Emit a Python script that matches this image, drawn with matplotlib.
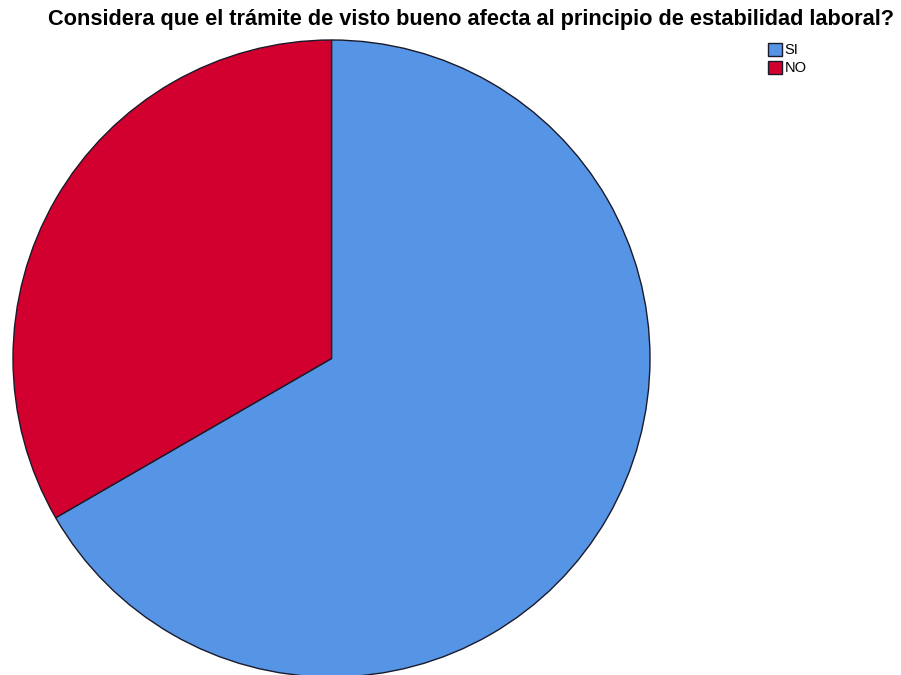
import matplotlib.pyplot as plt
from matplotlib.patches import Patch

# respuestas de la encuesta
categorias = ['SI', 'NO']
frecuencias = [20, 10]
colores = ['#5694e6', '#d2002e']

plt.rcParams['font.family'] = ['Liberation Sans', 'DejaVu Sans']

fig = plt.figure(figsize=(9.01, 6.75), dpi=100)
ax = fig.add_axes([13 / 901, -2 / 675, 637 / 901, 637 / 675])

ax.pie(frecuencias, colors=colores, startangle=90, counterclock=False,
       wedgeprops=dict(edgecolor='#1a1a2a', linewidth=1.0))
ax.set_xlim(-1.0, 1.0)
ax.set_ylim(-1.0, 1.0)
ax.set_aspect('equal')
ax.axis('off')

fig.text(471 / 901, 1 - 19 / 675,
         'Considera que el trámite de visto bueno afecta al principio de estabilidad laboral?',
         ha='center', va='center', fontsize=15.7, fontweight='bold')

handles = [Patch(facecolor=c, edgecolor='#1a1a2a', label=l)
           for c, l in zip(colores, categorias)]
fig.legend(handles=handles, loc='upper left', bbox_to_anchor=(768 / 901, 1 - 43 / 675),
           frameon=False, fontsize=10.5, handlelength=0.95, handleheight=0.95,
           handletextpad=0.2, labelspacing=0.25, borderpad=0.0, borderaxespad=0.0)

fig.savefig('out.png', dpi=100)
plt.close()
